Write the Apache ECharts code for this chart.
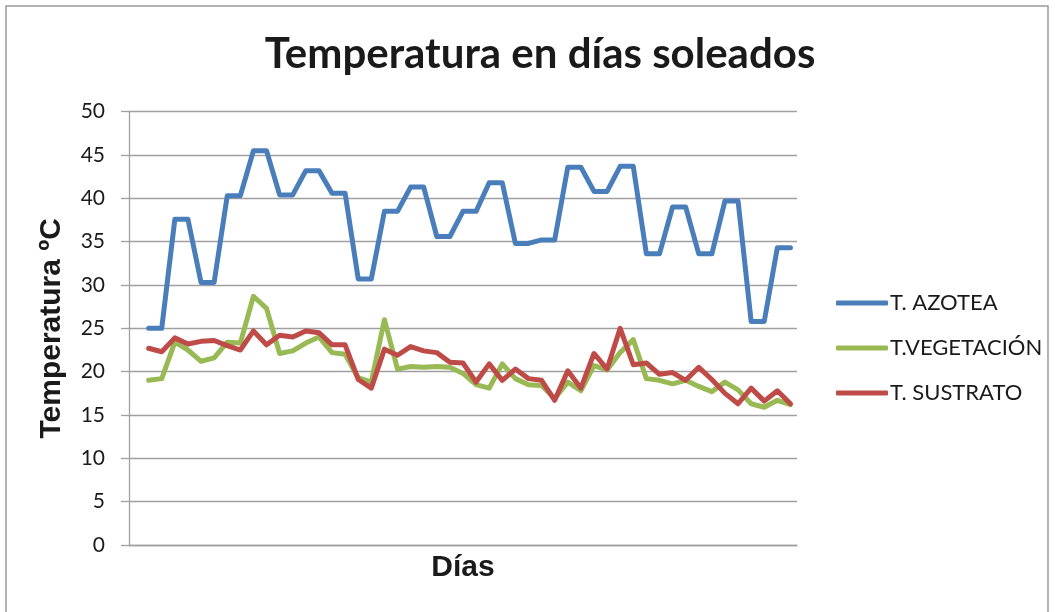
<!DOCTYPE html>
<html>
<head>
<meta charset="utf-8">
<script src="https://cdn.jsdelivr.net/npm/echarts@6/dist/echarts.min.js"></script>
<style>html,body{margin:0;padding:0;background:#fff;}#c{width:1055px;height:612px;}</style>
</head>
<body>
<div id="c"></div>
<script>
const dias = ['', '1','2','3','4','5','6','7','8','9','10','11','12','13','14','15','16','17','18','19','20','21','22','23','24','25','26','27','28','29','30','31','32','33','34','35','36','37','38','39','40','41','42','43','44','45','46','47','48','49','50'];
const yTicks = [0, 5, 10, 15, 20, 25, 30, 35, 40, 45, 50];
const azotea = [null, 25.0,25.0, 37.6,37.6, 30.3,30.3, 40.3,40.3, 45.5,45.5, 40.4,40.4, 43.2,43.2, 40.6,40.6, 30.7,30.7, 38.5,38.5, 41.3,41.3, 35.6,35.6, 38.5,38.5, 41.8,41.8, 34.8,34.8, 35.2,35.2, 43.6,43.6, 40.8,40.8, 43.7,43.7, 33.6,33.6, 39.0,39.0, 33.6,33.6, 39.7,39.7, 25.8,25.8, 34.3,34.3];
const vegetacion = [null, 19.0,19.2,23.4,22.5,21.2,21.6,23.4,23.3,28.7,27.3, 22.1,22.4,23.3,24.0,22.2,22.0,19.3,18.8,26.0,20.3, 20.6,20.5,20.6,20.5,19.8,18.5,18.1,20.9,19.2,18.5, 18.4,16.9,18.8,17.8,20.7,20.2,22.2,23.7,19.2,19.0, 18.6,19.0,18.3,17.7,18.8,17.9,16.3,15.9,16.7,16.2];
const sustrato = [null, 22.7,22.3,23.9,23.2,23.5,23.6,23.0,22.5,24.7,23.1, 24.2,24.0,24.7,24.5,23.1,23.1,19.1,18.1,22.6,21.9, 22.9,22.4,22.2,21.1,21.0,18.8,20.9,19.0,20.3,19.2, 19.0,16.7,20.1,18.1,22.1,20.3,25.0,20.8,21.0,19.7, 19.9,19.0,20.5,19.1,17.5,16.3,18.1,16.6,17.8,16.3];
const seriesNames = ['T. AZOTEA', 'T.VEGETACIÓN', 'T. SUSTRATO'];
const colors = ['#4A7EBB', '#98B954', '#BE4B48'];

const chart = echarts.init(document.getElementById('c'), null, {renderer: 'canvas'});
const mk = (name, data, color) => ({
  name, type: 'line', data, symbol: 'none', showSymbol: false, smooth: false,
  connectNulls: false,
  lineStyle: {color, width: 5, cap: 'round', join: 'round'},
  itemStyle: {color},
  emphasis: {disabled: true}
});
chart.setOption({
  animation: false,
  backgroundColor: '#fff',
  title: {
    text: 'Temperatura en días soleados',
    left: 535, textAlign: 'center', top: 28,
    textStyle: {fontFamily: 'Lato', fontWeight: 'bold', fontSize: 42, color: '#1a1a1a'}
  },
  graphic: [{
    type: 'rect', silent: true,
    shape: {x: 6, y: 6, width: 1042, height: 620},
    style: {fill: 'none', stroke: '#9a9a9a', lineWidth: 1.5}
  }],
  legend: {
    orient: 'vertical', left: 836, top: 291, padding: 0,
    itemWidth: 52, itemHeight: 5, itemGap: 21,
    icon: 'roundRect',
    textStyle: {fontFamily: 'Lato', fontSize: 22, color: '#1a1a1a', lineHeight: 24, padding: [0, 0, 0, -3]},
    data: seriesNames
  },
  grid: {left: 129, right: 258, top: 111.7, bottom: 67, containLabel: false},
  xAxis: {
    type: 'category', data: dias, boundaryGap: true,
    name: 'Días', nameLocation: 'middle', nameGap: 8,
    nameTextStyle: {fontFamily: 'Liberation Sans', fontWeight: 'bold', fontSize: 30, color: '#1a1a1a', verticalAlign: 'top'},
    axisLine: {lineStyle: {color: '#a0a0a0', width: 1.3}},
    axisTick: {show: false},
    axisLabel: {show: false},
    splitLine: {show: false}
  },
  yAxis: {
    type: 'value', min: yTicks[0], max: yTicks[yTicks.length - 1], interval: 5,
    name: 'Temperatura ºC', nameLocation: 'middle', nameGap: 62,
    nameTextStyle: {fontFamily: 'Liberation Sans', fontWeight: 'bold', fontSize: 30, color: '#1a1a1a'},
    axisLine: {show: true, lineStyle: {color: '#a0a0a0', width: 1.3}},
    axisTick: {show: true, length: 8, lineStyle: {color: '#a0a0a0', width: 1.3}},
    axisLabel: {margin: 24, fontFamily: 'Lato', fontSize: 21, color: '#1a1a1a'},
    splitLine: {show: true, lineStyle: {color: '#a0a0a0', width: 1.3}}
  },
  series: [
    mk(seriesNames[0], azotea, colors[0]),
    mk(seriesNames[1], vegetacion, colors[1]),
    mk(seriesNames[2], sustrato, colors[2])
  ]
});
</script>
</body>
</html>
